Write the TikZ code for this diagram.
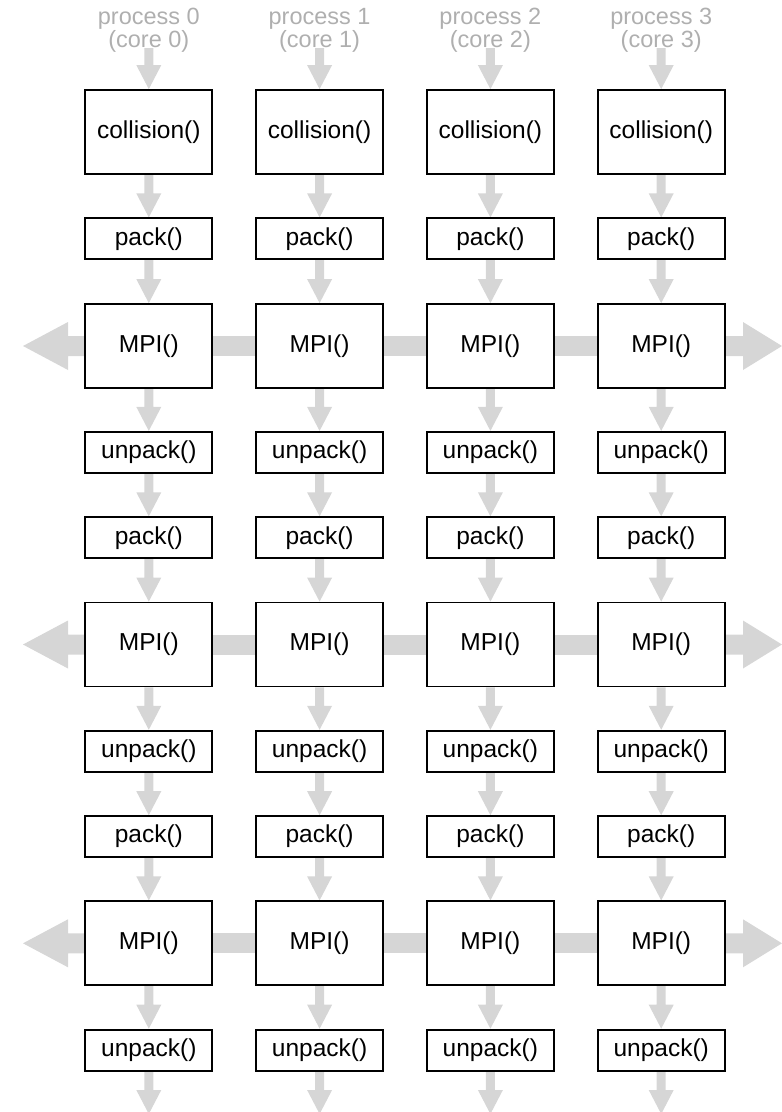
\documentclass[tikz,border=0pt]{standalone}
\usepackage{fontspec}
\setmainfont{Liberation Sans}
\usetikzlibrary{backgrounds}
\definecolor{arrowgray}{HTML}{D6D6D6}
\definecolor{titlegray}{HTML}{AFAFAF}
\newcommand\myboxfont{\fontsize{24.5}{28}\selectfont}
\newcommand\mytitlefont{\fontsize{23.5}{20}\selectfont}
\newcommand\vconn[2]{%
  \fill[arrowgray] ([xshift=-4.5pt]#1) -- ([xshift=-4.5pt,yshift=24pt]#2) -- ([xshift=-12.5pt,yshift=24pt]#2) -- (#2)
    -- ([xshift=12.5pt,yshift=24pt]#2) -- ([xshift=4.5pt,yshift=24pt]#2) -- ([xshift=4.5pt]#1) -- cycle;}
\newcommand\lconn[2]{%
  \fill[arrowgray] (#2) -- ([xshift=45pt,yshift=24pt]#2) -- ([xshift=45pt,yshift=10pt]#2) -- ([yshift=10pt]#1)
    -- ([yshift=-10pt]#1) -- ([xshift=45pt,yshift=-10pt]#2) -- ([xshift=45pt,yshift=-24pt]#2) -- cycle;}
\newcommand\rconn[2]{%
  \fill[arrowgray] (#2) -- ([xshift=-39pt,yshift=24pt]#2) -- ([xshift=-39pt,yshift=10pt]#2) -- ([yshift=10pt]#1)
    -- ([yshift=-10pt]#1) -- ([xshift=-39pt,yshift=-10pt]#2) -- ([xshift=-39pt,yshift=-24pt]#2) -- cycle;}
\tikzset{
  procbox/.style={draw=black, line width=1.8pt, fill=white, minimum width=127pt, inner sep=0pt, font=\myboxfont},
  tallbox/.style={procbox, minimum height=84pt},
  shortbox/.style={procbox, minimum height=41pt},
  titletext/.style={text=titlegray, align=center, font=\mytitlefont, inner sep=0pt, anchor=north},
  hbar/.style={draw=arrowgray, line width=20pt},
}
\begin{document}
\begin{tikzpicture}[x=1pt,y=-1pt]
\useasboundingbox (0,0) rectangle (782,1112);
\foreach \i/\x in {0/148.8,1/319.6,2/490.4,3/661.2}{
  \node[titletext] (title\i) at (\x,8) {process \i\\(core \i)};
  \coordinate (top\i) at (\x,48);
  \node[tallbox]  (c\i)  at (\x,132.0) {collision()};
  \node[shortbox] (pa\i) at (\x,238.8) {pack()};
  \node[tallbox]  (ma\i) at (\x,346.0) {MPI()};
  \node[shortbox] (ua\i) at (\x,452.3) {unpack()};
  \node[shortbox] (pb\i) at (\x,537.7) {pack()};
  \node[tallbox]  (mb\i) at (\x,644.5) {MPI()};
  \node[shortbox] (ub\i) at (\x,751.2) {unpack()};
  \node[shortbox] (pc\i) at (\x,836.6) {pack()};
  \node[tallbox]  (mc\i) at (\x,943.3) {MPI()};
  \node[shortbox] (uc\i) at (\x,1050.1) {unpack()};
  \coordinate (bot\i) at (\x,1114);
}
\coordinate (La) at (23,346.0);
\coordinate (Lb) at (23,644.5);
\coordinate (Lc) at (23,943.3);
\coordinate (Ra) at (782,346.0);
\coordinate (Rb) at (782,644.5);
\coordinate (Rc) at (782,943.3);
\begin{scope}[on background layer]
\foreach \i in {0,1,2,3}{
  \vconn{top\i}{c\i.north}
  \vconn{c\i.south}{pa\i.north}
  \vconn{pa\i.south}{ma\i.north}
  \vconn{ma\i.south}{ua\i.north}
  \vconn{ua\i.south}{pb\i.north}
  \vconn{pb\i.south}{mb\i.north}
  \vconn{mb\i.south}{ub\i.north}
  \vconn{ub\i.south}{pc\i.north}
  \vconn{pc\i.south}{mc\i.north}
  \vconn{mc\i.south}{uc\i.north}
  \vconn{uc\i.south}{bot\i}
}
\foreach \r in {a,b,c}{
  \draw[hbar] (m\r0.east) -- (m\r1.west);
  \draw[hbar] (m\r1.east) -- (m\r2.west);
  \draw[hbar] (m\r2.east) -- (m\r3.west);
  \lconn{m\r0.west}{L\r}
  \rconn{m\r3.east}{R\r}
}
\end{scope}
\end{tikzpicture}
\end{document}
